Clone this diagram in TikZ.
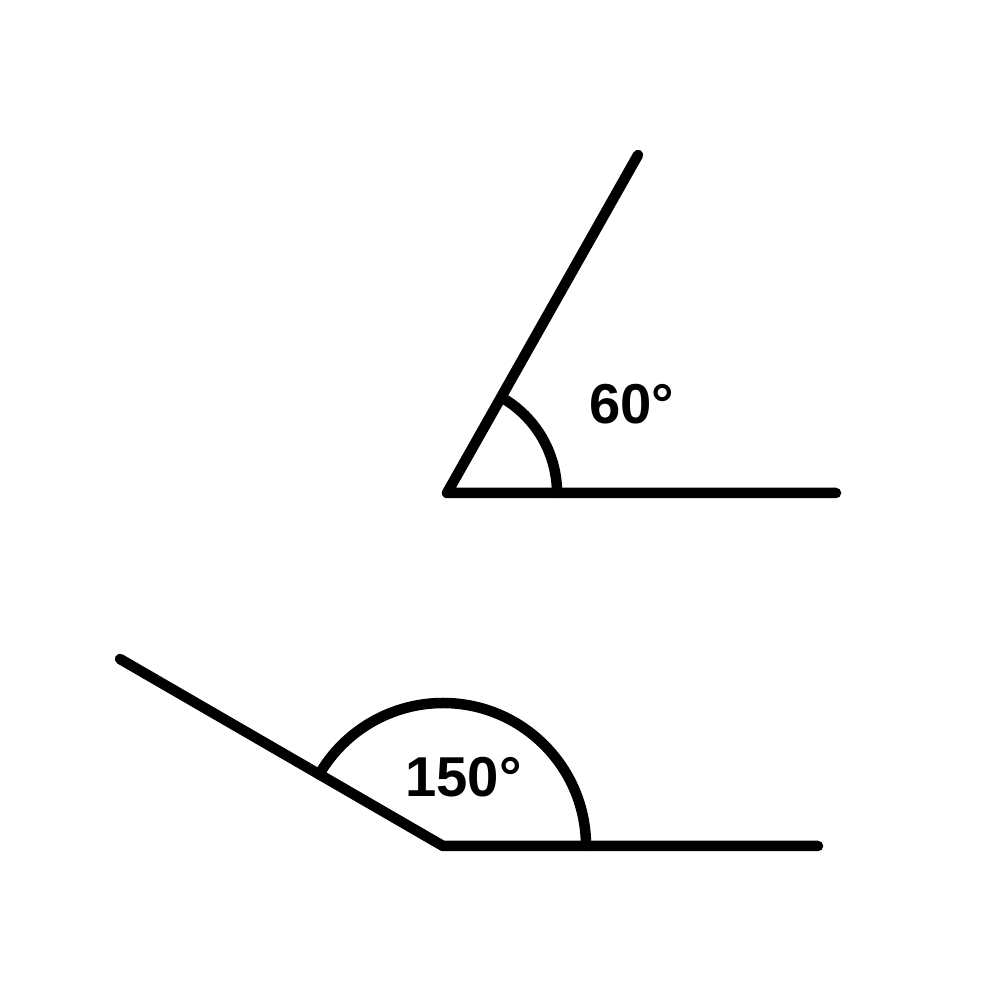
\documentclass[tikz,border=0pt]{standalone}
\usepackage{fontspec}
\setmainfont{Liberation Sans}
\begin{document}
\begin{tikzpicture}[
  ray/.style={line width=0.105cm, line cap=round, line join=round},
  lbl/.style={inner sep=0pt, font=\fontsize{16}{19}\selectfont\bfseries}
]
\useasboundingbox (0,0) rectangle (10,10);
% angle 60
\coordinate (v1) at (4.47,5.07);
\coordinate (h1) at (8.36,5.07);
\coordinate (r1) at (6.38,8.45);
\draw[ray] (h1) -- (v1) -- (r1);
\draw[ray] ([xshift=1.10cm]v1) arc[start angle=0, end angle=60, radius=1.10];
\node[lbl] (t1) at (6.315,5.96) {60°};
% angle 150
\coordinate (v2) at (4.43,1.54);
\coordinate (h2) at (8.18,1.54);
\coordinate (r2) at (1.20,3.41);
\draw[ray] (h2) -- (v2) -- (r2);
\draw[ray] ([xshift=1.43cm]v2) arc[start angle=0, end angle=150, radius=1.43];
\node[lbl] (t2) at (4.635,2.225) {150°};
\end{tikzpicture}
\end{document}
